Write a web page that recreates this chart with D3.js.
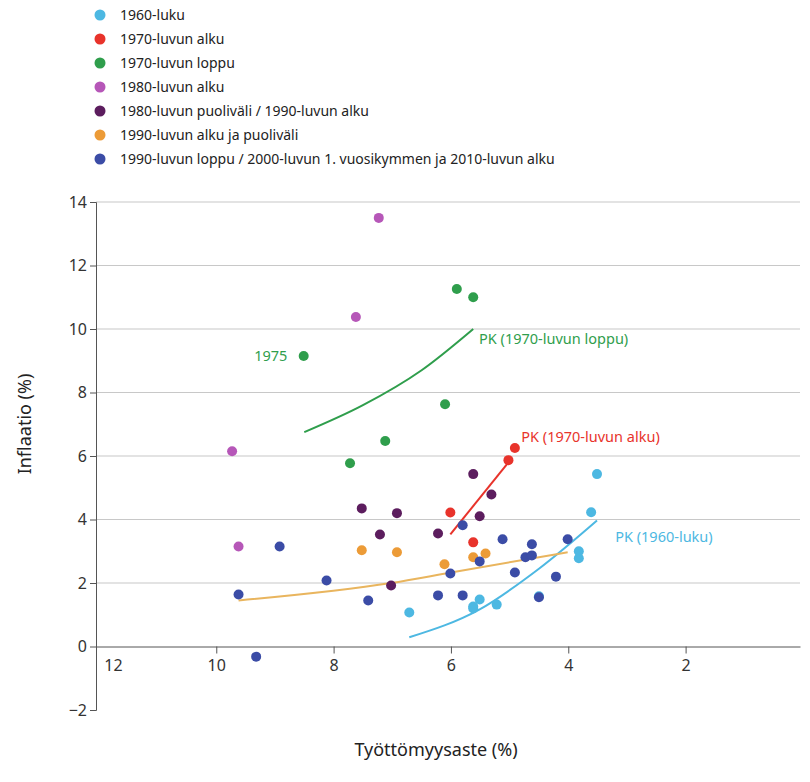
<!DOCTYPE html>
<html><head><meta charset="utf-8">
<script src="https://cdn.jsdelivr.net/npm/d3@7"></script>
<style>body{margin:0;background:#fff;font-family:"Noto Sans",sans-serif}</style>
</head><body><div id="wrapper"></div>
<script>
const groups = ["1960-luku","1970-luvun alku","1970-luvun loppu","1980-luvun alku",
  "1980-luvun puoliväli / 1990-luvun alku","1990-luvun alku ja puoliväli",
  "1990-luvun loppu / 2000-luvun 1. vuosikymmen ja 2010-luvun alku"]
const colors = ["#4db8e2","#e8332b","#2f9e4c","#b657b8","#5c1d5e","#ec9b37","#3b4ca6"]
// [unemployment, inflation] per group
const s1960 = [[6.71,1.07],[5.62,1.2],[5.62,1.26],[5.51,1.48],[5.22,1.32],[4.5,1.58],[3.82,3.0],[3.82,2.78],[3.61,4.23],[3.51,5.43]]
const s1970a = [[6.01,4.22],[5.62,3.28],[5.02,5.87],[4.91,6.25]]
const s1970l = [[8.51,9.15],[5.9,11.26],[5.62,11.0],[6.1,7.63],[7.12,6.47],[7.72,5.77]]
const s1980a = [[7.23,13.5],[7.62,10.38],[9.73,6.15],[9.62,3.15]]
const s1980p = [[7.52,4.35],[6.92,4.2],[7.21,3.53],[6.22,3.56],[5.62,5.43],[5.31,4.79],[5.51,4.1],[7.02,1.92]]
const s1990a = [[7.52,3.03],[6.92,2.97],[6.11,2.59],[5.62,2.81],[5.41,2.93]]
const s1990l = [[9.62,1.64],[8.92,3.15],[9.32,-0.32],[8.12,2.08],[7.41,1.45],[6.22,1.61],[5.8,1.61],[6.01,2.3],[5.8,3.82],[5.51,2.68],[5.12,3.38],[4.91,2.33],[4.62,3.22],[4.73,2.81],[4.62,2.87],[4.5,1.55],[4.21,2.2],[4.01,3.38]]
const series = [s1960,s1970a,s1970l,s1980a,s1980p,s1990a,s1990l]
// Phillips curves
const pk1960 = [[6.71,0.29],[5.51,1.17],[4.5,2.45],[3.51,3.97]]
const pk1970a = [[6.01,3.53],[5.02,5.8]]
const pk1970l = [[8.5,6.75],[7.5,7.6],[6.5,8.7],[5.62,10.0]]
const pk1990 = [[9.62,1.45],[7.02,2.0],[6.0,2.33],[4.01,2.97]]
const xTicks = [12,10,8,6,4,2]
const yTicks = [-2,0,2,4,6,8,10,12,14]

const W = 810, H = 782
const svg = d3.select('#wrapper').append('svg').attr('width', W).attr('height', H)
const x = d3.scaleLinear().domain([12.05, 0.05]).range([96, 800])
const y = d3.scaleLinear().domain([-2, 14]).range([710, 202])

// gridlines
svg.append('g').selectAll('line').data(yTicks.filter(d => d > 0)).join('line')
  .attr('x1', 96).attr('x2', 800).attr('y1', d => y(d)).attr('y2', d => y(d))
  .attr('stroke', '#c8c8c8').attr('stroke-width', 1.2)

// y axis
const yAxis = svg.append('g').attr('transform', 'translate(96,0)')
  .call(d3.axisLeft(y).tickValues(yTicks).tickSize(6).tickFormat(d => d < 0 ? '\u2212' + (-d) : d))
yAxis.select('.domain').attr('stroke', '#555')
yAxis.selectAll('.tick line').attr('stroke', '#555')
yAxis.selectAll('text').attr('font-size', 16).attr('fill', '#333').attr('font-family', 'Noto Sans')

// x axis at zero
const xAxis = svg.append('g').attr('transform', `translate(0,${y(0)})`)
  .call(d3.axisBottom(x).tickValues(xTicks).tickSize(7).tickSizeOuter(0))
xAxis.select('.domain').attr('stroke', '#555')
xAxis.selectAll('.tick line').attr('stroke', '#555').attr('opacity', d => d === 12 ? 0 : 1)
xAxis.selectAll('text').attr('font-size', 16).attr('fill', '#333').attr('font-family', 'Noto Sans')
  .attr('dy', '0.9em').attr('dx', d => d === 12 ? 14 : 0)

// curves
const line = d3.line().x(d => x(d[0])).y(d => y(d[1])).curve(d3.curveMonotoneX)
const curves = [[pk1970l, colors[2]], [pk1970a, colors[1]], [pk1960, colors[0]], [pk1990, "#e9b55e"]]
svg.append('g').selectAll('path').data(curves).join('path')
  .attr('d', d => line(d[0].slice().sort((a, b) => a[0] - b[0])))
  .attr('fill', 'none').attr('stroke', d => d[1]).attr('stroke-width', 2)

// points
series.forEach((s, i) => {
  svg.append('g').selectAll('circle').data(s).join('circle')
    .attr('cx', d => x(d[0])).attr('cy', d => y(d[1])).attr('r', 5)
    .attr('fill', colors[i])
})

// annotations
const notes = [["1975", 8.55, 9.15, colors[2], 'end', -14],
  ["PK (1970-luvun loppu)", 5.52, 9.7, colors[2], 'start', 0],
  ["PK (1970-luvun alku)", 4.8, 6.6, colors[1], 'start', 0],
  ["PK (1960-luku)", 3.2, 3.45, colors[0], 'start', 0]]
svg.append('g').selectAll('text').data(notes).join('text')
  .attr('x', d => x(d[1]) + d[5]).attr('y', d => y(d[2]) + 5)
  .attr('text-anchor', d => d[4]).attr('fill', d => d[3]).attr('font-size', 14.5).text(d => d[0])

// legend
const leg = svg.append('g').selectAll('g').data(groups).join('g')
  .attr('transform', (d, i) => `translate(100,${15 + i * 24})`)
leg.append('circle').attr('r', 5.5).attr('fill', (d, i) => colors[i])
leg.append('text').attr('x', 20).attr('y', 5).attr('font-size', 14).attr('fill', '#222').text(d => d)

// axis titles
svg.append('text').attr('x', 436).attr('y', 756).attr('text-anchor', 'middle')
  .attr('font-size', 18).attr('fill', '#222').text('Työttömyysaste (%)')
svg.append('text').attr('transform', 'translate(31,424) rotate(-90)').attr('text-anchor', 'middle')
  .attr('font-size', 18).attr('fill', '#222').text('Inflaatio (%)')
</script></body></html>
